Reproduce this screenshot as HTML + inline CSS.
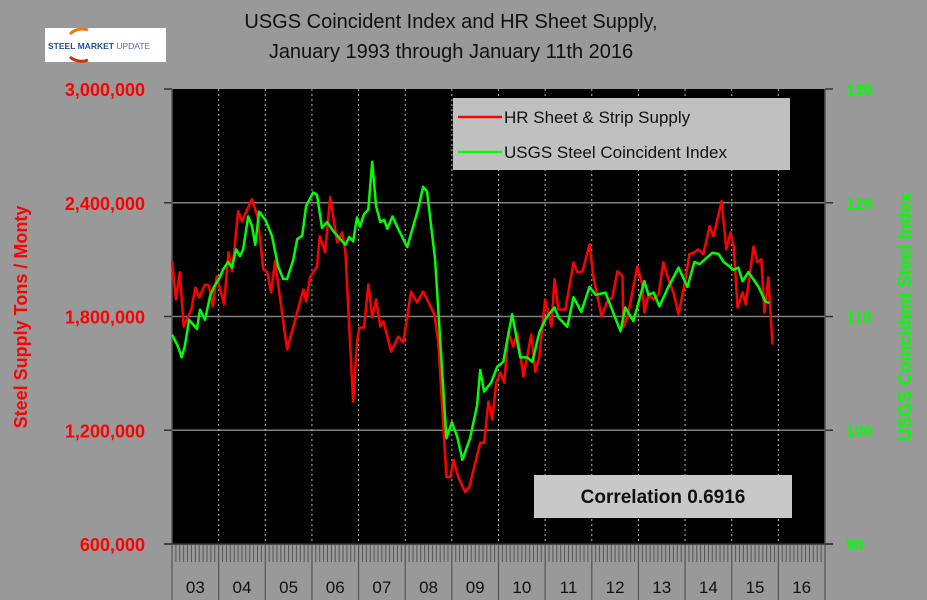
<!DOCTYPE html>
<html><head><meta charset="utf-8">
<style>
html,body{margin:0;padding:0;background:#999;}
svg{display:block;font-family:"Liberation Sans",Arial,sans-serif;}
</style></head>
<body>
<svg id="chart" width="927" height="600" viewBox="0 0 927 600" xmlns="http://www.w3.org/2000/svg">
<rect x="0" y="0" width="927" height="600" fill="#999999"/>
<text x="451" y="28" text-anchor="middle" font-size="20" fill="#111">USGS Coincident Index and HR Sheet Supply,</text>
<text x="451" y="58" text-anchor="middle" font-size="20" fill="#111">January 1993 through January 11th 2016</text>
<g>
<rect x="45" y="28" width="121" height="34" fill="#fff"/>
<path d="M70 34 A16 14 0 0 1 88 30" stroke="#f07a10" stroke-width="3" fill="none"/>
<path d="M70 57 A16 14 0 0 0 88 60" stroke="#d03010" stroke-width="3" fill="none"/>
<text x="48" y="49" font-size="8.5" font-weight="bold" fill="#1f4f9a">STEEL MARKET <tspan font-weight="normal" fill="#4a70b0">UPDATE</tspan></text>
</g>
<rect x="172" y="89" width="653" height="455" fill="#000"/>
<g id="grid"></g>
<g id="axes"></g>
<g id="series"></g>
<text transform="translate(27,317) rotate(-90)" text-anchor="middle" font-size="18" font-weight="bold" fill="#ff0000">Steel Supply Tons / Monty</text>
<text transform="translate(911,317) rotate(-90)" text-anchor="middle" font-size="18" font-weight="bold" fill="#00ff00">USGS Coincident Steel Index</text>
<g>
<rect x="453" y="98" width="337" height="72" fill="#c0c0c0"/>
<g>
<line x1="458" y1="117" x2="502" y2="117" stroke="#ff0000" stroke-width="2.5"/>
<text x="504" y="123" font-size="17" fill="#111">HR Sheet &amp; Strip Supply</text>
</g>
<g>
<line x1="458" y1="152" x2="502" y2="152" stroke="#00ff00" stroke-width="2.5"/>
<text x="504" y="158" font-size="17" fill="#111">USGS Steel Coincident Index</text>
</g>
</g>
<g>
<rect x="534" y="475" width="258" height="43" fill="#c8c8c8"/>
<text x="663" y="503" text-anchor="middle" font-size="19" font-weight="bold" fill="#111">Correlation 0.6916</text>
</g>
</svg>
<script>
const yearLabels = ["03","04","05","06","07","08","09","10","11","12","13","14","15","16"];
const leftTicks = [600000,1200000,1800000,2400000,3000000];
const rightTicks = [90,100,110,120,130];
const hrMonths = [0,1,2,3,5,6,7,8.5,9.5,10.5,11.5,13.4,14.5,15.5,17,18,20.5,22,23.5,24.5,25.5,26.5,29.6,33.8,34.5,35.5,37.3,38,39.4,40.7,42.5,43.8,44.6,46.6,47.6,48.2,49.4,50.5,51.5,52.5,53.6,54.4,56.4,58.2,59.5,61.5,63,64.6,67.5,68.5,70.6,71.6,72.4,73.7,75.4,76.5,79.3,80.3,81.4,82.4,83.4,84.5,85.5,86.5,87.8,88.8,90.4,92.4,93.5,94.5,96,97.6,98.4,99.4,101.2,103.3,104.3,105.6,107.4,108.4,110.5,112,113.3,114.6,115.9,116.1,117.2,119.7,121,121.5,122.6,123.9,125.2,126.4,127.7,129,130.3,132.1,133.1,134.4,135.4,136.7,138.3,139.3,141.4,142.6,143.7,144.5,145.5,146.8,147.6,149.6,150.6,151.6,152.4,153.4,154.5];
const hrSupply = [2091,1890,2033,1747,1837,1953,1900,1969,1965,1853,2012,1864,2138,2038,2355,2302,2418,2329,2049,2033,1927,2091,1626,1943,1879,2006,2064,2223,2138,2429,2191,2244,2138,1351,1663,1742,1742,1969,1795,1890,1747,1774,1615,1694,1663,1932,1874,1932,1811,1663,954,954,1044,949,875,901,1134,1134,1351,1256,1451,1504,1451,1716,1641,1716,1483,1705,1509,1589,1890,1747,1996,1837,1837,2086,2033,2038,2181,2012,1800,1879,1900,2038,2012,1742,1795,2064,1969,1821,1916,1890,1916,2086,1996,1927,1811,1996,2128,2138,2154,2128,2276,2223,2408,2154,2244,2170,1847,1927,1864,2170,2086,2102,1821,2006,1652];
const usgsMonths = [0,1.5,2.5,3.3,4.4,6.4,7.2,8.5,9.8,10.8,12.1,13.1,14.4,15.4,16.5,17.5,18.3,19.6,20.6,21.4,22.4,24,25.7,27.3,28.6,29.6,31.2,32.2,33.5,34.5,36.3,37.3,38.6,39.9,41.5,43.3,44.6,45.6,46.6,47.6,48.4,49.4,50.5,51.5,52.5,53.6,54.6,55.4,56.7,58.2,60.5,63.3,64.6,65.6,67.7,70.6,72,73.4,74.7,76.7,78.5,79.3,80.3,82.1,83.7,85.2,87.5,89.6,91.4,92.7,94.5,96.3,98.4,99.4,101.7,103.3,105.3,107.4,109,111.5,115.4,116.6,118.7,121.5,122.6,123.9,125.4,127.7,130.3,132.6,134.4,135.7,139,140.6,141.9,144.5,145.7,146.8,148.3,150.9,152.7,153.7];
const usgsIndex = [108.4,107.4,106.4,107.4,109.7,108.9,110.6,109.7,111.8,112.6,113.3,114.1,114.8,114.3,115.9,115.3,115.9,118.8,117.9,116.3,119.2,118.5,117.1,114.4,113.3,113.3,115,116.8,117.1,119.7,120.9,120.7,117.8,118.3,117.5,116.8,116.3,117,116.6,118.7,117.9,119,119.4,123.6,119.7,118.3,118.5,117.7,118.8,117.7,116.1,119.4,121.4,121,115,99.3,100.7,99.4,97.4,99.3,102.2,105.3,103.4,104.2,105.6,106,110.2,106.4,106.4,106,108.6,109.9,110.8,109.9,109.1,111.7,110.4,112.6,111.9,112.1,108.7,110.8,109.6,113.1,111.9,112.1,110.9,112.6,114.3,112.6,114.8,114.6,115.6,115.5,114.8,114.1,114.3,113.1,113.9,112.6,111.3,111.2];

const NS = "http://www.w3.org/2000/svg";
const X0 = 172, X1 = 825, Y0 = 89, Y1 = 544;
const totalMonths = yearLabels.length * 12;
function xScale(m){ return X0 + m / totalMonths * (X1 - X0); }
function yLeft(v){ return Y1 - (v - 600000) / 2400000 * (Y1 - Y0); }
function yRight(v){ return Y1 - (v - 90) / 40 * (Y1 - Y0); }
function mk(tag, attrs, parent){
  const e = document.createElementNS(NS, tag);
  for (const k in attrs) e.setAttribute(k, attrs[k]);
  parent.appendChild(e); return e;
}
const grid = document.getElementById('grid');
const axes = document.getElementById('axes');
const series = document.getElementById('series');

leftTicks.forEach((t, i) => {
  const y = yLeft(t);
  if (i > 0 && i < leftTicks.length - 1) {
    const g = mk('line', {x1:X0, x2:X1, y1:y, y2:y, stroke:'#808080', 'stroke-width':1.5}, grid);
    
    
  }
  mk('line', {x1:X0-8, x2:X0, y1:y, y2:y, stroke:'#333', 'stroke-width':1.5}, axes);
  const lbl = mk('text', {x:145, y:y+7, 'text-anchor':'end', 'font-size':18, 'font-weight':'bold', fill:'#ff0000'}, axes);
  lbl.textContent = t.toLocaleString('en-US');
  
  
});
rightTicks.forEach(t => {
  const y = yRight(t);
  mk('line', {x1:X1, x2:X1+8, y1:y, y2:y, stroke:'#333', 'stroke-width':1.5}, axes);
  const lbl = mk('text', {x:846, y:y+6, 'font-size':16, 'font-weight':'bold', fill:'#00ff00'}, axes);
  lbl.textContent = t;
  
  
});
// year dividers and month ticks
for (let m = 0; m <= totalMonths; m++) {
  const x = xScale(m);
  if (m % 12 === 0) {
    if (m > 0 && m < totalMonths) {
      const d = mk('line', {x1:x, x2:x, y1:Y0, y2:Y1, stroke:'#bbb', 'stroke-width':1, 'stroke-dasharray':'2,3'}, grid);
      
      
    }
    mk('line', {x1:x, x2:x, y1:Y1, y2:600, stroke:'#555', 'stroke-width':1.2}, axes);
  } else {
    mk('line', {x1:x, x2:x, y1:Y1, y2:562, stroke:'#555', 'stroke-width':1}, axes);
  }
}
yearLabels.forEach((lab, i) => {
  const t = mk('text', {x:xScale(i*12+6), y:593, 'text-anchor':'middle', 'font-size':17, fill:'#111'}, axes);
  t.textContent = lab;
  
  
});
mk('line', {x1:X0, x2:X0, y1:Y0, y2:Y1, stroke:'#555', 'stroke-width':1.5}, axes);
mk('line', {x1:X1, x2:X1, y1:Y0, y2:Y1, stroke:'#555', 'stroke-width':1.5}, axes);
mk('line', {x1:X0-8, x2:X1+8, y1:Y1, y2:Y1, stroke:'#333', 'stroke-width':1.5}, axes);

const redPts = hrMonths.map((m, i) => xScale(m).toFixed(1) + ',' + yLeft(hrSupply[i] * 1000).toFixed(1)).join(' ');
const red = mk('polyline', {points:redPts, fill:'none', stroke:'#ff0000', 'stroke-width':2.5, 'stroke-linejoin':'round'}, series);


const greenPts = usgsMonths.map((m, i) => xScale(m).toFixed(1) + ',' + yRight(usgsIndex[i]).toFixed(1)).join(' ');
const green = mk('polyline', {points:greenPts, fill:'none', stroke:'#00ff00', 'stroke-width':2.5, 'stroke-linejoin':'round'}, series);


</script>
</body></html>
